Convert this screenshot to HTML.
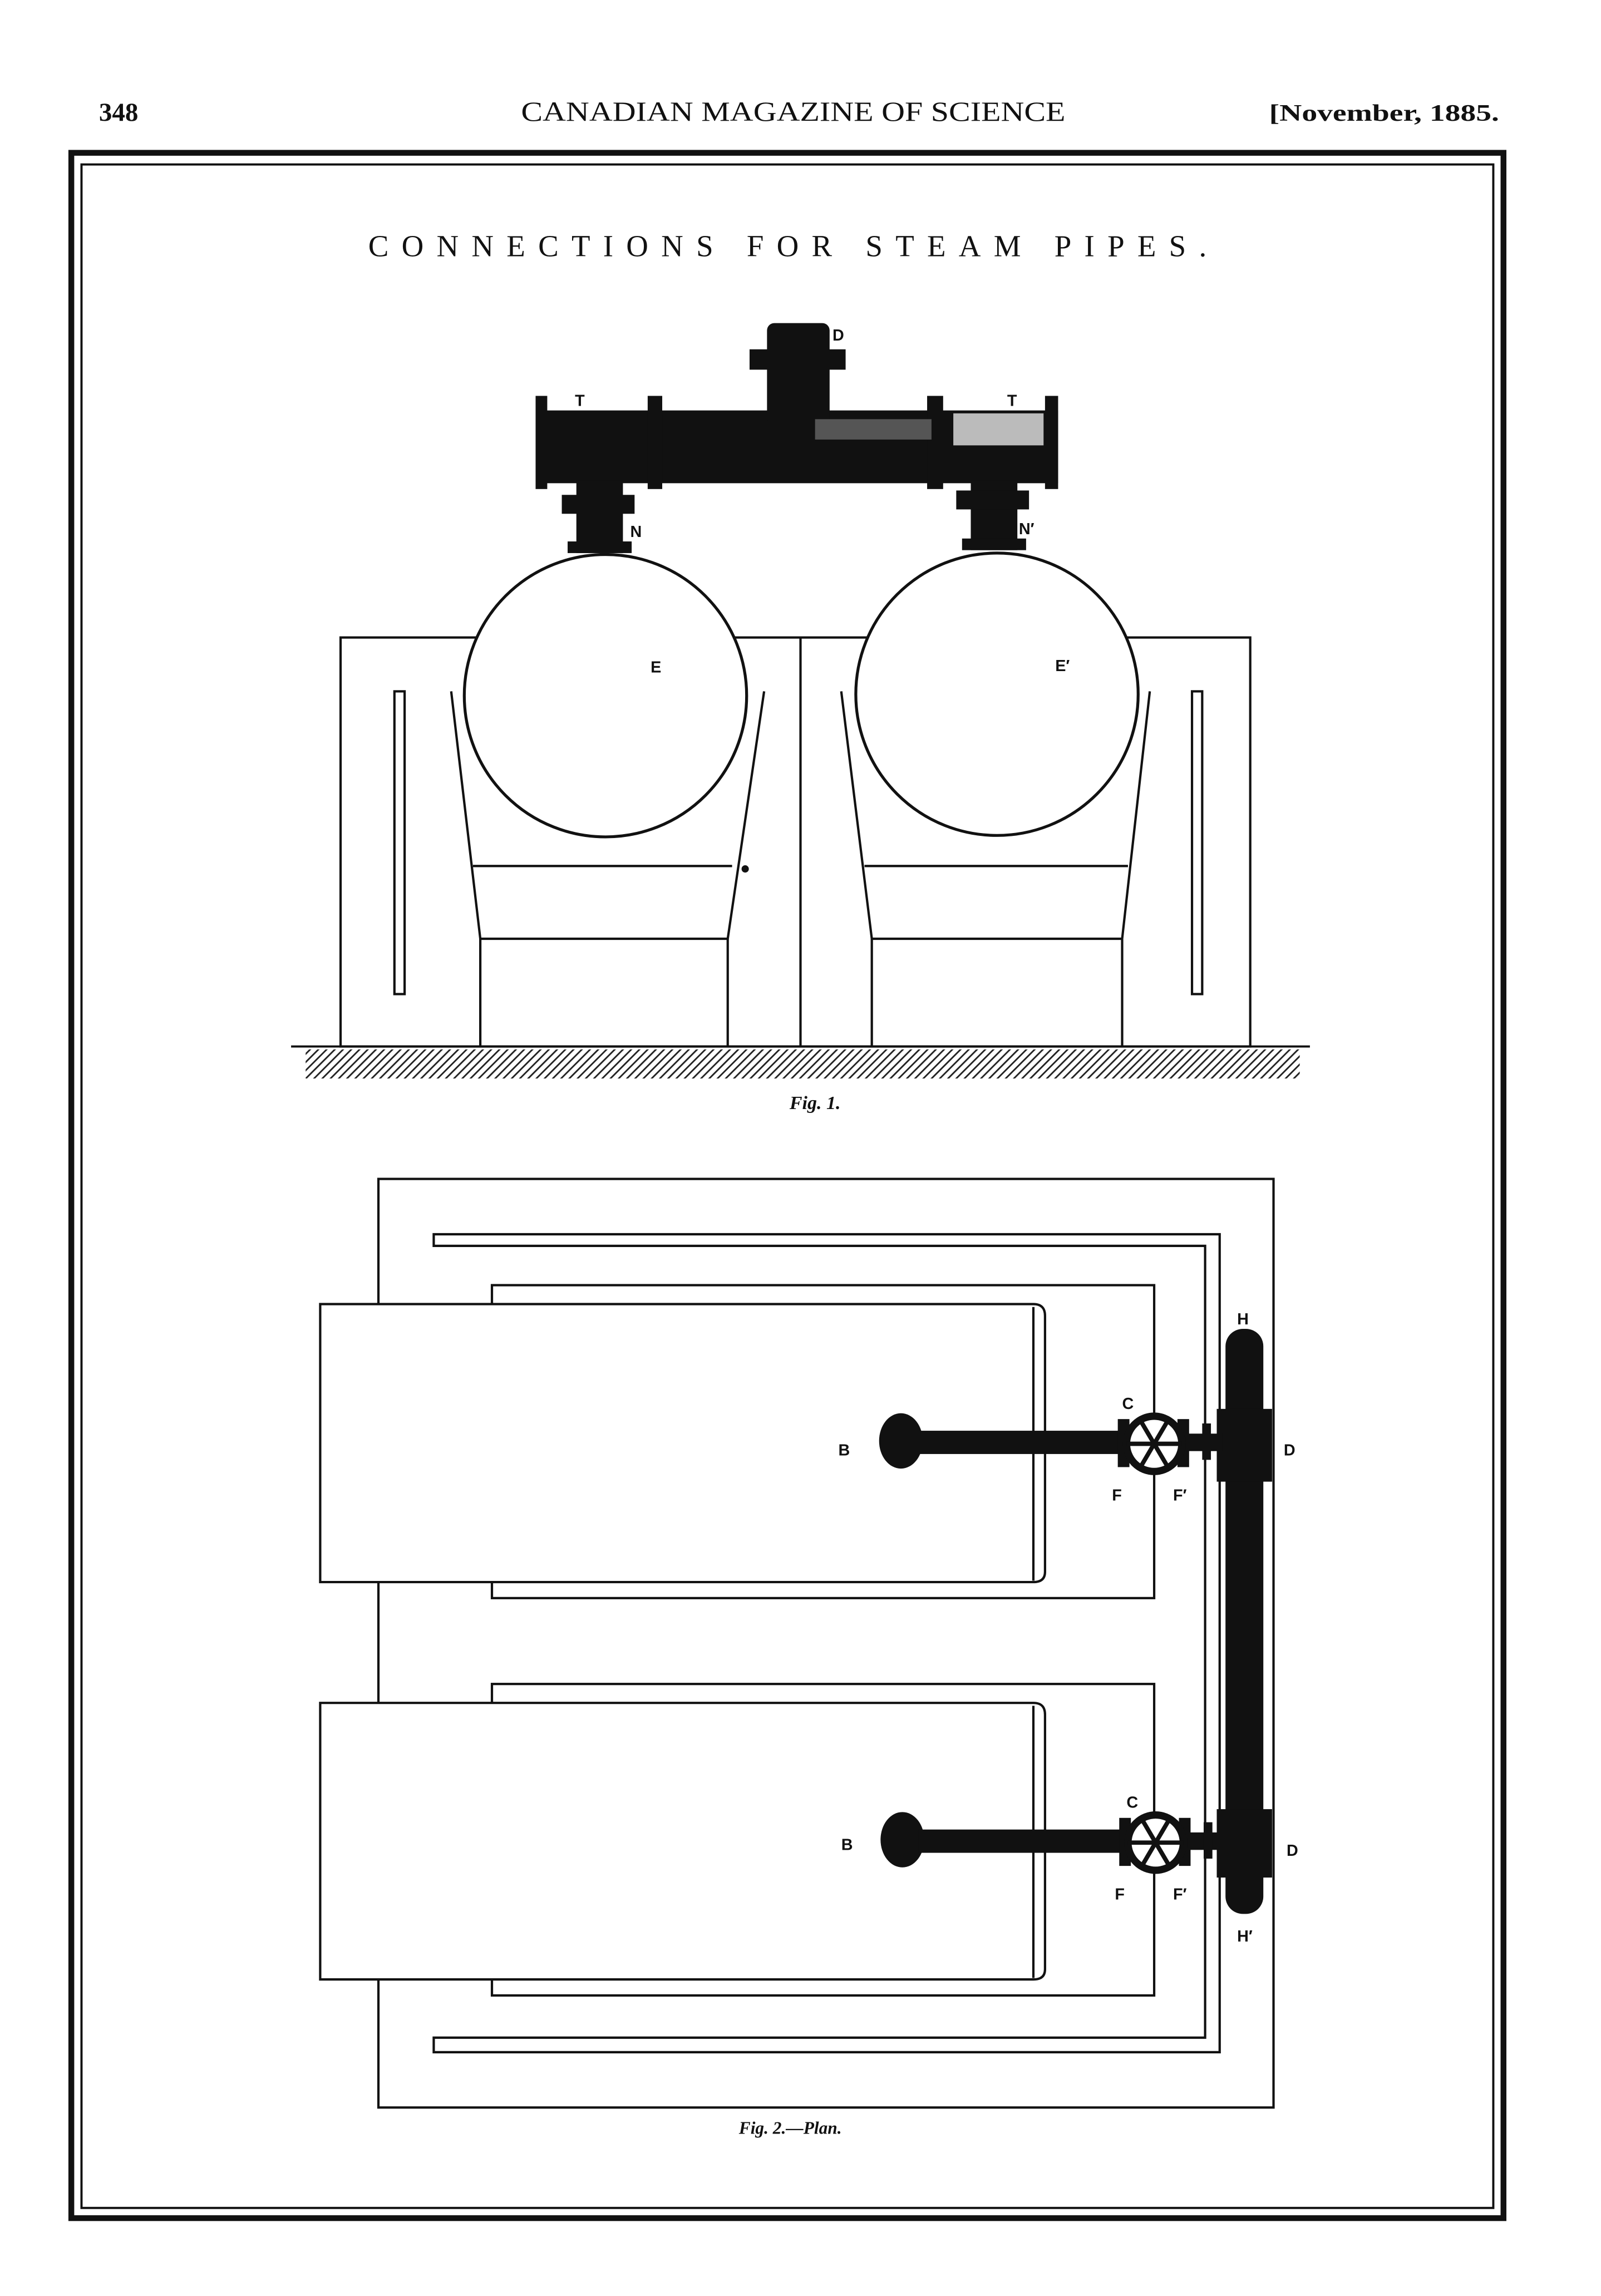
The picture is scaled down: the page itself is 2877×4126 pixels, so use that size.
<!DOCTYPE html>
<html><head><meta charset="utf-8"><style>
html,body{margin:0;padding:0;background:#fff;}
svg{display:block;}
text{font-family:"Liberation Serif",serif;fill:#111;}
.lb{font-family:"Liberation Sans",sans-serif;font-weight:bold;font-size:11px;}
</style></head><body>
<svg width="2877" height="4126" viewBox="0 0 1100 1577.5" preserveAspectRatio="none" xmlns="http://www.w3.org/2000/svg">
<defs>
<pattern id="hatch" width="4" height="4" patternUnits="userSpaceOnUse" patternTransform="rotate(45)">
<rect width="4" height="4" fill="#fff"/><line x1="0" y1="0" x2="0" y2="4" stroke="#222" stroke-width="2.2"/>
</pattern>
</defs>
<rect width="1100" height="1577.5" fill="#fff"/>
<!-- header -->
<text x="68" y="83" font-size="18" font-weight="bold">348</text>
<text x="545" y="83" font-size="19" text-anchor="middle" textLength="374" lengthAdjust="spacingAndGlyphs">CANADIAN MAGAZINE OF SCIENCE</text>
<text x="872" y="83" font-size="16" font-weight="bold" textLength="158" lengthAdjust="spacingAndGlyphs">[November, 1885.</text>
<!-- frame -->
<rect x="49" y="105" width="984" height="1419" fill="none" stroke="#111" stroke-width="4"/>
<rect x="56" y="113" width="970" height="1404" fill="none" stroke="#111" stroke-width="1.5"/>
<text x="541" y="176" font-size="21" text-anchor="middle" textLength="576">CONNECTIONS FOR STEAM PIPES.</text>

<!-- Fig 1 settings -->
<g fill="none" stroke="#111" stroke-width="1.6">
<rect x="234" y="438" width="625" height="281"/>
<line x1="550" y1="438" x2="550" y2="719"/>
<rect x="271" y="475" width="7" height="208"/>
<rect x="819" y="475" width="7" height="208"/>
<polyline points="310,475 330,645 330,719"/>
<polyline points="525,475 500,645 500,719"/>
<line x1="325" y1="595" x2="503" y2="595"/>
<line x1="330" y1="645" x2="500" y2="645"/>
<polyline points="578,475 599,645 599,719"/>
<polyline points="790,475 771,645 771,719"/>
<line x1="594" y1="595" x2="775" y2="595"/>
<line x1="599" y1="645" x2="771" y2="645"/>
</g>
<circle cx="416" cy="478" r="97" fill="#fff" stroke="#111" stroke-width="2"/>
<circle cx="685" cy="477" r="97" fill="#fff" stroke="#111" stroke-width="2"/>
<circle cx="512" cy="597" r="2.5" fill="#111"/>
<line x1="200" y1="719" x2="900" y2="719" stroke="#111" stroke-width="1.5"/>
<rect x="210" y="721" width="683" height="20" fill="url(#hatch)"/>
<text x="560" y="762" font-size="13" font-weight="bold" font-style="italic" text-anchor="middle">Fig. 1.</text>

<!-- header pipe -->
<g fill="#111">
<rect x="370" y="282" width="357" height="50"/>
<rect x="368" y="272" width="8" height="64"/>
<rect x="445" y="272" width="10" height="64"/>
<rect x="637" y="272" width="11" height="64"/>
<rect x="718" y="272" width="9" height="64"/>
<rect x="527" y="222" width="43" height="70" rx="5"/>
<rect x="515" y="240" width="66" height="14"/>
<rect x="396" y="330" width="32" height="50"/>
<rect x="386" y="340" width="50" height="13"/>
<rect x="390" y="372" width="44" height="8"/>
<rect x="667" y="330" width="32" height="48"/>
<rect x="657" y="337" width="50" height="13"/>
<rect x="661" y="370" width="44" height="8"/>
</g>
<rect x="655" y="284" width="62" height="22" fill="#bbb"/>
<rect x="560" y="288" width="80" height="14" fill="#555"/>
<text class="lb" x="572" y="234">D</text>
<text class="lb" x="395" y="279">T</text>
<text class="lb" x="692" y="279">T</text>
<text class="lb" x="433" y="369">N</text>
<text class="lb" x="700" y="367">N′</text>
<text class="lb" x="447" y="462">E</text>
<text class="lb" x="725" y="461">E′</text>

<!-- Fig 2 -->
<g fill="none" stroke="#111" stroke-width="1.6">
<rect x="260" y="810" width="615" height="638"/>
<path d="M298,848 H838 V1410 H298 V1400 H828 V856 H298 Z"/>
<rect x="338" y="883" width="455" height="215"/>
<rect x="338" y="1157" width="455" height="214"/>
</g>
<g fill="#fff" stroke="#111" stroke-width="1.6">
<path d="M220,896 H710 Q718,896 718,904 V1080 Q718,1087 710,1087 H220 Z"/>
<line x1="710" y1="898" x2="710" y2="1086"/>
<path d="M220,1170 H710 Q718,1170 718,1178 V1353 Q718,1360 710,1360 H220 Z"/>
<line x1="710" y1="1172" x2="710" y2="1359"/>
</g>
<!-- H pipe -->
<rect x="842" y="913" width="26" height="402" rx="12" fill="#111"/>
<rect x="836" y="968" width="38" height="50" fill="#111"/>
<rect x="836" y="1243" width="38" height="47" fill="#111"/>
<!-- branches -->
<g id="br">
<ellipse cx="619" cy="990" rx="15" ry="19" fill="#111"/>
<rect x="630" y="983" width="142" height="16" fill="#111"/>
<rect x="768" y="975" width="8" height="33" fill="#111"/>
<rect x="809" y="975" width="8" height="33" fill="#111"/>
<rect x="815" y="985" width="25" height="12" fill="#111"/>
<rect x="826" y="978" width="6" height="25" fill="#111"/>
<circle cx="793" cy="992" r="19" fill="#fff" stroke="#111" stroke-width="5"/>
<g stroke="#111" stroke-width="3"><line x1="774" y1="992" x2="812" y2="992"/><line x1="783" y1="975" x2="803" y2="1009"/><line x1="803" y1="975" x2="783" y2="1009"/></g>
</g>
<use href="#br" transform="translate(1,274)"/>
<text class="lb" x="850" y="910">H</text>
<text class="lb" x="771" y="968">C</text>
<text class="lb" x="882" y="1000">D</text>
<text class="lb" x="576" y="1000">B</text>
<text class="lb" x="764" y="1031">F</text>
<text class="lb" x="806" y="1031">F′</text>
<text class="lb" x="774" y="1242">C</text>
<text class="lb" x="578" y="1271">B</text>
<text class="lb" x="884" y="1275">D</text>
<text class="lb" x="766" y="1305">F</text>
<text class="lb" x="806" y="1305">F′</text>
<text class="lb" x="850" y="1334">H′</text>
<text x="543" y="1466" font-size="12" font-weight="bold" font-style="italic" text-anchor="middle">Fig. 2.—Plan.</text>
</svg>
</body></html>
